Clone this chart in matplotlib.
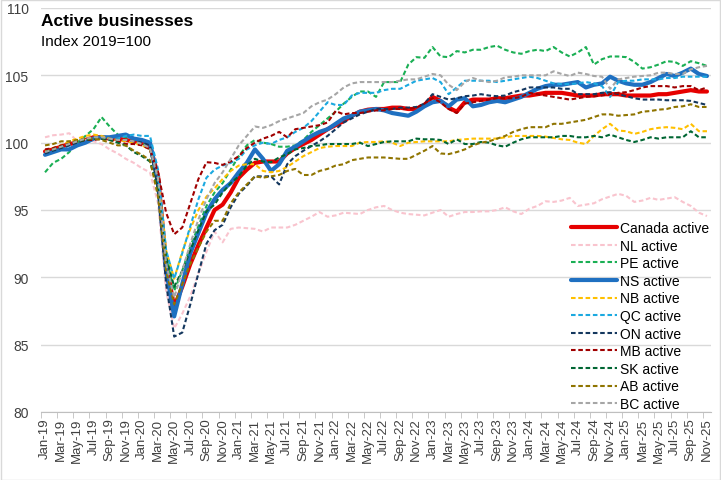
import matplotlib
matplotlib.use("Agg")
import matplotlib.pyplot as plt
import pandas as pd
import numpy as np

plt.rcParams['font.family'] = ['Liberation Sans', 'DejaVu Sans']

# monthly categories Jan-19 .. Nov-25
months = pd.date_range('2019-01-01', '2025-11-01', freq='MS').strftime('%b-%y').tolist()

canada = [99.35, 99.5, 99.7, 99.9, 100.0, 100.2, 100.4, 100.4, 100.3, 100.3, 100.2, 100.1,
          100.0, 99.8, 97.5, 91.0, 87.8, 89.3, 91.0, 92.4, 93.7, 95.0, 95.4, 96.3,
          97.4, 98.0, 98.5, 98.6, 98.6, 98.6, 99.2, 99.6, 99.9, 100.2, 100.6, 101.0,
          101.3, 101.6, 102.0, 102.3, 102.45, 102.5, 102.5, 102.6, 102.6, 102.5, 102.5, 102.8,
          103.4, 103.1, 102.6, 102.3, 103.0, 103.2, 103.2, 103.2, 103.3, 103.3, 103.4, 103.5,
          103.5, 103.6, 103.7, 103.7, 103.7, 103.6, 103.5, 103.5, 103.5, 103.6, 103.6, 103.6,
          103.5, 103.5, 103.5, 103.5, 103.6, 103.6, 103.7, 103.8, 103.9, 103.8, 103.8]

nl = [100.4, 100.55, 100.6, 100.7, 100.1, 100.2, 100.1, 99.9, 99.5, 99.2, 98.8, 98.5,
      98.1, 97.8, 95.5, 89.0, 86.2, 87.3, 88.6, 90.3, 91.9, 93.4, 92.6, 93.6,
      93.7, 93.65, 93.6, 93.4, 93.7, 93.7, 93.7, 93.9, 94.2, 94.5, 94.85, 94.5,
      94.6, 94.8, 94.75, 94.7, 95.0, 95.2, 95.3, 95.0, 94.8, 94.7, 94.65, 94.6,
      94.8, 95.0, 94.5, 94.7, 94.85, 94.85, 94.9, 94.9, 95.0, 95.2, 94.9, 94.7,
      95.1, 95.3, 95.65, 95.6, 95.7, 95.9, 95.3, 95.4, 95.5, 95.8, 96.0, 96.2,
      96.05, 95.6, 95.7, 95.9, 95.75, 95.85, 95.95, 95.6, 95.3, 94.8, 94.55]

pe = [97.8, 98.5, 98.8, 99.3, 100.0, 100.5, 101.0, 101.9, 101.2, 100.6, 100.4, 100.3,
      100.0, 99.5, 97.0, 91.5, 89.0, 90.5, 92.3, 93.8, 95.3, 96.3, 97.0, 98.0,
      99.0, 99.8, 100.2, 100.0, 99.9, 99.7, 99.7, 99.8, 100.2, 100.8, 101.3, 101.8,
      102.3, 102.9, 103.4, 103.8, 103.8, 103.4, 104.5, 104.5, 104.5, 105.8, 106.35, 106.3,
      107.1, 106.4, 106.35, 106.8, 106.7, 106.9, 106.9, 107.1, 107.2, 106.9, 106.7, 106.6,
      106.8, 106.9, 106.8, 107.1, 106.7, 106.4, 106.7, 107.1, 105.8, 106.2, 106.4, 106.4,
      106.35, 106.0, 105.5, 105.6, 105.8, 106.05, 106.0, 105.7, 106.05, 105.9, 105.7]

ns = [99.1, 99.3, 99.5, 99.5, 99.8, 100.0, 100.3, 100.4, 100.4, 100.5, 100.6, 100.3,
      100.2, 100.0, 97.0, 90.5, 87.1, 89.5, 91.8, 93.3, 94.8, 95.8, 96.5, 97.0,
      97.8, 98.5, 99.5, 98.8, 97.9, 98.4, 99.4, 99.7, 100.1, 100.5, 100.8, 101.0,
      101.4, 101.8, 102.0, 102.3, 102.4, 102.5, 102.4, 102.2, 102.1, 102.0, 102.3, 102.7,
      103.0, 103.1, 102.7, 103.2, 103.3, 102.7, 102.8, 103.0, 103.1, 103.0, 103.2, 103.4,
      103.7, 104.0, 104.2, 104.3, 104.3, 104.4, 104.5, 104.1, 104.3, 104.4, 104.9, 104.6,
      104.4, 104.3, 104.3, 104.5, 104.8, 105.1, 104.95, 105.2, 105.5, 105.1, 104.95]

nb = [99.4, 99.6, 99.8, 100.1, 100.3, 100.5, 100.6, 100.5, 100.3, 100.2, 100.1, 100.0,
      99.8, 99.5, 97.5, 92.0, 89.9, 91.9, 93.6, 95.0, 96.0, 96.6, 97.3, 97.9,
      98.3, 98.4, 98.4, 97.9, 97.8, 97.9, 98.2, 98.6, 99.0, 99.3, 99.6, 99.7,
      99.75, 99.75, 99.75, 100.0, 100.05, 100.05, 100.1, 100.0, 99.75, 100.0, 100.05, 100.1,
      100.1, 100.1, 100.1, 100.2, 100.25, 100.3, 100.3, 100.3, 100.3, 100.4, 100.5, 100.5,
      100.5, 100.5, 100.45, 100.35, 100.25, 100.2, 100.0, 99.9, 100.5, 101.0, 101.4, 100.9,
      100.85, 100.65, 100.8, 101.0, 101.1, 101.15, 101.1, 101.0, 101.4, 100.85, 100.85]

qc = [99.3, 99.4, 99.6, 99.8, 100.0, 100.2, 100.3, 100.3, 100.2, 100.3, 100.5, 100.6,
      100.5, 100.5, 98.0, 92.0, 89.9, 91.8, 93.8, 95.8, 97.4, 98.0, 98.3, 98.5,
      98.8, 99.5, 99.8, 100.0, 99.9, 100.2, 100.4, 100.8, 101.1, 101.6, 102.3, 103.0,
      102.8, 102.8, 103.5, 103.7, 103.7, 103.7, 103.9, 104.0, 104.0, 104.3, 104.6, 104.7,
      104.8, 104.5, 103.6, 104.1, 104.6, 104.6, 104.6, 104.6, 104.5, 104.6, 104.7, 104.8,
      104.9, 104.8, 104.6, 104.4, 104.35, 104.35, 104.4, 104.5, 104.4, 104.2, 103.4, 104.5,
      104.6, 104.6, 104.7, 104.7, 104.7, 104.8, 104.8, 104.9, 104.9, 104.9, 104.9]

on = [99.2, 99.4, 99.6, 99.8, 100.0, 100.2, 100.3, 100.3, 100.3, 100.2, 100.2, 100.1,
      100.0, 99.8, 96.5, 89.5, 85.6, 85.9, 88.0, 90.3, 92.5, 93.5, 93.9, 95.2,
      96.2, 96.8, 97.5, 97.5, 97.5, 96.9, 98.4, 99.0, 99.4, 99.75, 100.1, 100.5,
      101.0, 101.5, 101.8, 102.1, 102.3, 102.5, 102.5, 102.5, 102.6, 102.6, 102.65, 102.9,
      103.6, 103.4, 103.2, 103.3, 103.45, 103.5, 103.6, 103.5, 103.45, 103.5, 103.75, 103.9,
      104.1, 104.1, 104.1, 104.1, 104.0, 104.0, 103.6, 103.6, 103.6, 103.7, 103.75, 103.6,
      103.45, 103.3, 103.2, 103.2, 103.2, 103.15, 103.15, 103.15, 103.1, 102.95, 102.8]

mb = [99.5, 99.6, 99.8, 99.9, 100.1, 100.2, 100.2, 100.3, 100.2, 100.1, 99.9, 99.9,
      99.8, 99.5, 97.8, 94.8, 93.2, 93.7, 95.5, 97.3, 98.55, 98.5, 98.35, 98.6,
      99.0, 99.6, 100.0, 100.3, 100.5, 100.8, 100.4, 101.0, 101.1, 101.2, 101.3, 101.5,
      102.35, 102.1, 102.2, 102.2, 102.3, 102.4, 102.4, 102.5, 102.5, 102.5, 102.6, 102.9,
      103.3, 103.0, 102.5, 102.2, 102.9, 103.0, 103.1, 103.2, 103.3, 103.3, 103.3, 103.4,
      103.7, 103.6, 103.5, 103.4, 103.3, 103.2, 103.3, 103.4, 103.45, 103.5, 103.6, 103.7,
      103.75, 103.9, 104.1, 104.2, 104.2, 104.2, 104.1, 104.2, 104.2, 103.9, 104.1]

sk = [99.3, 99.5, 99.7, 99.9, 100.1, 100.2, 100.3, 100.3, 100.2, 100.0, 99.8, 99.3,
      99.0, 98.6, 96.5, 91.5, 89.3, 90.5, 92.0, 93.5, 94.9, 95.4, 96.3, 97.0,
      97.5, 98.3, 98.8, 98.6, 98.55, 98.9, 99.15, 99.5, 99.6, 99.75, 99.8, 99.9,
      99.9, 99.9, 99.9, 100.0, 99.75, 99.9, 100.05, 100.1, 100.1, 100.1, 100.3, 100.25,
      100.25, 100.2, 99.9, 100.25, 99.9, 99.9, 100.05, 100.0, 99.8, 99.7, 100.0, 100.25,
      100.4, 100.4, 100.4, 100.4, 100.5, 100.5, 100.4, 100.4, 100.5, 100.4, 100.6, 100.4,
      100.2, 100.05, 100.2, 100.4, 100.3, 100.4, 100.4, 100.4, 100.85, 100.4, 100.4]

ab = [99.8, 99.9, 100.1, 100.1, 100.2, 100.3, 100.3, 100.2, 100.0, 99.8, 99.8, 99.4,
      99.1, 98.7, 96.0, 90.5, 88.0, 89.5, 91.0, 92.2, 93.4, 94.2, 94.2, 95.5,
      96.3, 96.9, 97.5, 97.4, 97.5, 97.6, 97.9, 98.05, 97.6, 97.6, 97.9, 98.05,
      98.3, 98.4, 98.7, 98.8, 98.9, 98.9, 98.9, 98.85, 98.8, 98.8, 99.1, 99.4,
      99.75, 99.2, 99.15, 99.3, 99.5, 99.8, 100.0, 100.1, 100.3, 100.5, 100.8, 101.0,
      101.15, 101.15, 101.15, 101.4, 101.4, 101.5, 101.6, 101.7, 101.9, 102.1, 102.1, 102.0,
      102.05, 102.1, 102.3, 102.35, 102.45, 102.5, 102.65, 102.7, 102.85, 102.65, 102.65]

bc = [99.3, 99.5, 99.7, 99.9, 100.1, 100.3, 100.4, 100.4, 100.3, 100.2, 100.2, 100.1,
      99.9, 99.6, 97.3, 91.0, 88.5, 90.5, 92.5, 94.3, 95.8, 97.0, 97.8, 98.8,
      99.8, 100.5, 101.2, 101.1, 101.3, 101.6, 101.8, 102.0, 102.2, 102.7, 103.0, 103.2,
      103.6, 104.1, 104.4, 104.5, 104.5, 104.5, 104.5, 104.5, 104.6, 104.7, 104.7, 104.9,
      105.1, 105.0, 104.3, 103.9, 104.5, 104.8, 104.6, 104.5, 104.6, 104.85, 104.9, 105.0,
      105.0, 105.0, 105.0, 105.3, 105.1, 104.95, 105.2, 105.1, 104.95, 104.9, 104.0, 104.7,
      104.8, 104.9, 104.95, 105.0, 105.2, 105.2, 105.1, 105.1, 105.45, 105.6, 105.7]

series = [
    ('Canada active', canada, '#E60000', 'solid'),
    ('NL active', nl, '#F9C4CE', 'dash'),
    ('PE active', pe, '#1AAF54', 'dash'),
    ('NS active', ns, '#1F70C1', 'solid'),
    ('NB active', nb, '#FFC000', 'dash'),
    ('QC active', qc, '#1BA9E0', 'dash'),
    ('ON active', on, '#14375E', 'dash'),
    ('MB active', mb, '#A00000', 'dash'),
    ('SK active', sk, '#006633', 'dash'),
    ('AB active', ab, '#8F7400', 'dash'),
    ('BC active', bc, '#A6A6A6', 'dash'),
]

fig = plt.figure(figsize=(7.21, 4.81), dpi=100)
ax = fig.add_axes([41 / 721, 1 - 413 / 481, 670 / 721, 404 / 481])

x = np.arange(len(months))
for name, vals, col, style in series:
    if style == 'solid':
        ax.plot(x, vals, color=col, lw=3.0, label=name, solid_capstyle='round')
    else:
        ax.plot(x, vals, color=col, lw=1.5, dashes=(2.2, 1.3), label=name)

ax.set_xlim(-0.5, len(months) - 0.5)
ax.set_ylim(80, 110)
ax.set_yticks(range(80, 111, 5))
ax.yaxis.grid(True, color='#D9D9D9', lw=1)
ax.set_axisbelow(True)
for s in ['left', 'right', 'top']:
    ax.spines[s].set_visible(False)
ax.spines['bottom'].set_color('#BFBFBF')

ax.set_xticks(x[::2])
ax.set_xticklabels(months[::2], rotation=90, fontsize=9.5, color='#404040')
ax.set_xticks(np.arange(-0.5, len(months), 2), minor=True)
ax.tick_params(axis='x', which='major', length=0, pad=4)
ax.tick_params(axis='x', which='minor', length=4, color='#BFBFBF')
ax.tick_params(axis='y', length=0, labelsize=10, colors='#404040', pad=9)

fig.text(41 / 721, 1 - 22 / 481, 'Active businesses', fontsize=12.5, fontweight='bold',
         va='center', ha='left')
fig.text(41 / 721, 1 - 42 / 481, 'Index 2019=100', fontsize=11, va='center', ha='left')

ax.legend(loc='upper left', bbox_to_anchor=(564 / 721, 1 - 215 / 481),
          bbox_transform=fig.transFigure, frameon=False, fontsize=10,
          handlelength=3.3, handletextpad=0.25, labelspacing=0.26, borderpad=0)

# light grey chart border like the original
fig.patches.append(plt.Rectangle((0.001, 0.001), 0.997, 0.997, transform=fig.transFigure,
                                 fill=False, edgecolor='#D9D9D9', lw=1))

fig.savefig('out.png', dpi=100)
